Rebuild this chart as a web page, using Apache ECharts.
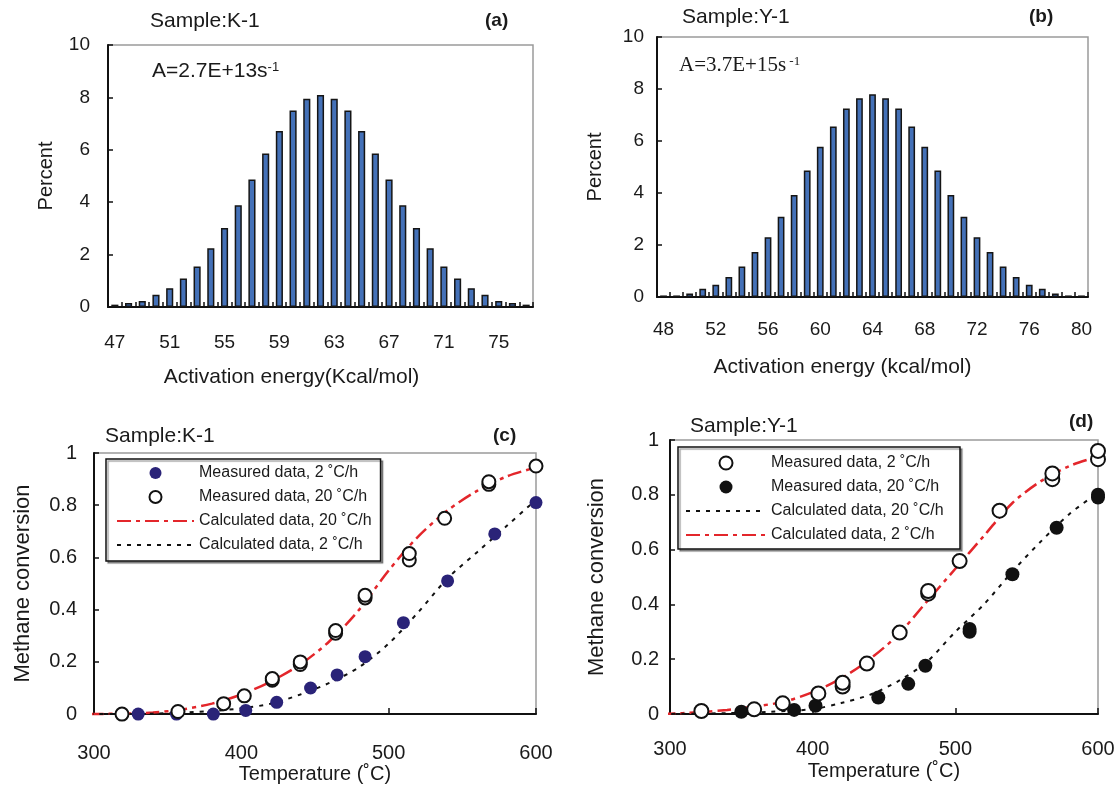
<!DOCTYPE html>
<html>
<head>
<meta charset="utf-8">
<script src="https://cdn.jsdelivr.net/npm/echarts@6/dist/echarts.min.js"></script>
<style>html,body{margin:0;padding:0;background:#fff}#chart{width:1118px;height:785px}</style>
</head>
<body>
<div id="chart"></div>
<script>
// ---------- Panel (a): K-1 activation energy distribution ----------
const energyA = ['47','48','49','50','51','52','53','54','55','56','57','58','59','60','61','62','63','64','65','66','67','68','69','70','71','72','73','74','75','76','77'];
const percentA = [0.09,0.15,0.23,0.47,0.72,1.09,1.55,2.24,3.02,3.88,4.87,5.86,6.72,7.50,7.95,8.09,7.95,7.50,6.72,5.86,4.87,3.88,3.02,2.24,1.55,1.09,0.72,0.47,0.23,0.15,0.09];
// ---------- Panel (b): Y-1 activation energy distribution ----------
const energyB = ['48','49','50','51','52','53','54','55','56','57','58','59','60','61','62','63','64','65','66','67','68','69','70','71','72','73','74','75','76','77','78','79','80'];
const percentB = [0.06,0.06,0.13,0.32,0.47,0.77,1.17,1.73,2.30,3.09,3.92,4.87,5.78,6.56,7.25,7.64,7.80,7.64,7.25,6.56,5.78,4.87,3.92,3.09,2.30,1.73,1.17,0.77,0.47,0.32,0.13,0.06,0.06];

// ---------- Panel (c): K-1 methane conversion ----------
const cMeas2T = [330,356,381,403,424,447,465,484,510,540,572,600];
const cMeas2V = [0,0,0,0.014,0.045,0.10,0.15,0.22,0.35,0.51,0.69,0.81];
const cMeas20T = [319,357,388,402,421,421,440,440,464,464,484,484,514,514,538,568,568,600];
const cMeas20V = [0,0.01,0.04,0.07,0.13,0.136,0.19,0.20,0.31,0.32,0.445,0.455,0.59,0.615,0.75,0.88,0.89,0.95];
const cCalc20T = [297,320,340,360,380,400,420,440,460,480,500,520,540,560,580,600,606];
const cCalc20V = [0,0.002,0.006,0.018,0.04,0.075,0.125,0.19,0.28,0.40,0.55,0.68,0.78,0.855,0.91,0.945,0.955];
const cCalc2T = [297,340,380,400,420,440,460,480,500,520,540,560,580,600,606];
const cCalc2V = [0,0.002,0.012,0.022,0.04,0.075,0.12,0.18,0.27,0.39,0.52,0.62,0.72,0.82,0.845];

// ---------- Panel (d): Y-1 methane conversion ----------
const dMeas2T = [322,359,379,404,421,421,438,461,481,481,503,531,568,568,600,600];
const dMeas2V = [0.011,0.017,0.039,0.075,0.10,0.114,0.184,0.297,0.439,0.449,0.558,0.742,0.857,0.878,0.93,0.96];
const dMeas20T = [350,387,402,446,467,479,510,510,540,571,600,600];
const dMeas20V = [0.008,0.015,0.03,0.06,0.11,0.176,0.30,0.31,0.51,0.68,0.79,0.80];
const dCalc2T = [294,320,340,360,380,400,420,440,460,480,500,520,540,560,580,600,608];
const dCalc2V = [0,0.006,0.015,0.028,0.045,0.08,0.13,0.2,0.29,0.41,0.53,0.65,0.77,0.85,0.905,0.94,0.955];
const dCalc20T = [294,340,370,400,420,440,460,480,500,520,540,560,580,600,607];
const dCalc20V = [0,0.003,0.008,0.018,0.04,0.07,0.12,0.19,0.30,0.40,0.52,0.63,0.73,0.81,0.85];

const legendC = ['Measured data, 2 ˚C/h','Measured data, 20 ˚C/h','Calculated data, 20 ˚C/h','Calculated data, 2 ˚C/h'];
const legendD = ['Measured data, 2 ˚C/h ','Measured data, 20 ˚C/h ','Calculated data, 20 ˚C/h ','Calculated data, 2 ˚C/h '];

const FONT = "'Liberation Sans', Arial, Helvetica, sans-serif";
const SERIF = "'Liberation Serif', 'Times New Roman', serif";
const pairs = (t, v) => t.map((x, i) => [x, v[i]]);

const gridBox = {show: true, borderColor: '#9a9a9a', borderWidth: 1.5, backgroundColor: 'transparent'};
const axisLineBlack = {show: true, onZero: false, lineStyle: {color: '#111', width: 2}};
const tickIn = {show: true, inside: true, length: 5, lineStyle: {color: '#111', width: 1.5}};
const lbl = (margin, extra) => Object.assign({color: '#1a1a1a', fontSize: 19, fontFamily: FONT, margin: margin}, extra || {});
const nameStyle = (extra) => Object.assign({color: '#1a1a1a', fontSize: 21, fontFamily: FONT}, extra || {});
const plainTitle = (size, weight) => ({fontSize: size, fontWeight: weight || 'normal', color: '#1a1a1a', fontFamily: FONT});

const redDash = {color: '#e3262b', width: 2.5, type: [14, 5, 4, 5]};
const blackDot = {color: '#111', width: 2, type: [4, 6]};
const hideSym = {color: 'rgba(0,0,0,0)', borderWidth: 0, opacity: 0};
const legendItems = (names, lineIdx) => names.map((n, i) => lineIdx.indexOf(i) >= 0 ? {name: n, itemStyle: hideSym} : {name: n});

const option = {
  animation: false,
  backgroundColor: '#fff',
  title: [
    {text: 'Sample:K-1', left: 150, top: 11, padding: 0, textStyle: plainTitle(21)},
    {text: '(a)', left: 485, top: 11, padding: 0, textStyle: plainTitle(19, 'bold')},
    {text: '{n|A=2.7E+13s}{s|-1}', left: 152, top: 61, padding: 0, textStyle: {fontWeight: 'normal', rich: {n: {fontSize: 21, fontWeight: 'normal', color: '#1a1a1a', fontFamily: FONT}, s: {fontSize: 13, fontWeight: 'normal', color: '#1a1a1a', fontFamily: FONT, verticalAlign: 'top', lineHeight: 12}}}},
    {text: 'Sample:Y-1', left: 682, top: 7, padding: 0, textStyle: plainTitle(21)},
    {text: '(b)', left: 1029, top: 7, padding: 0, textStyle: plainTitle(19, 'bold')},
    {text: '{n|A=3.7E+15s}{s| -1}', left: 679, top: 55, padding: 0, textStyle: {fontWeight: 'normal', rich: {n: {fontSize: 21, fontWeight: 'normal', color: '#1a1a1a', fontFamily: SERIF}, s: {fontSize: 13, fontWeight: 'normal', color: '#1a1a1a', fontFamily: SERIF, verticalAlign: 'top', lineHeight: 12}}}},
    {text: 'Sample:K-1', left: 105, top: 426, padding: 0, textStyle: plainTitle(21)},
    {text: '(c)', left: 493, top: 426, padding: 0, textStyle: plainTitle(19, 'bold')},
    {text: 'Sample:Y-1', left: 690, top: 416, padding: 0, textStyle: plainTitle(21)},
    {text: '(d)', left: 1069, top: 412, padding: 0, textStyle: plainTitle(19, 'bold')}
  ],
  legend: [
    {data: legendItems(legendC, [2, 3]), orient: 'vertical', left: 106, top: 459, itemWidth: 77, itemHeight: 12, itemGap: 8,
     padding: [6, 9, 8, 10], borderColor: '#111', borderWidth: 1.5, backgroundColor: '#fff',
     shadowColor: 'rgba(0,0,0,0.35)', shadowOffsetX: 2, shadowOffsetY: 2, shadowBlur: 1,
     selectedMode: false, textStyle: {fontSize: 16, color: '#1a1a1a', fontFamily: FONT}},
    {data: legendItems(legendD, [2, 3]), orient: 'vertical', left: 678, top: 447, itemWidth: 80, itemHeight: 13, itemGap: 8,
     padding: [8, 12, 6, 7], borderColor: '#111', borderWidth: 1.5, backgroundColor: '#fff',
     shadowColor: 'rgba(0,0,0,0.35)', shadowOffsetX: 2, shadowOffsetY: 2, shadowBlur: 1,
     selectedMode: false, textStyle: {fontSize: 16, color: '#1a1a1a', fontFamily: FONT}}
  ],
  grid: [
    Object.assign({left: 108, top: 45, width: 425, height: 262}, gridBox),
    Object.assign({left: 657, top: 37, width: 431, height: 260}, gridBox),
    Object.assign({left: 94, top: 453, width: 442, height: 265}, gridBox),
    Object.assign({left: 670, top: 440, width: 428, height: 274}, gridBox)
  ],
  xAxis: [
    {gridIndex: 0, type: 'category', data: energyA, boundaryGap: true,
     axisLine: axisLineBlack, axisTick: Object.assign({interval: 0}, tickIn),
     axisLabel: lbl(26, {interval: 3}), splitLine: {show: false},
     name: 'Activation energy(Kcal/mol)', nameLocation: 'middle', nameGap: 60,
     nameTextStyle: nameStyle({padding: [0, 58, 0, 0]})},
    {gridIndex: 1, type: 'category', data: energyB, boundaryGap: true,
     axisLine: axisLineBlack, axisTick: Object.assign({interval: 0}, tickIn),
     axisLabel: lbl(23, {interval: 3}), splitLine: {show: false},
     name: 'Activation energy (kcal/mol)', nameLocation: 'middle', nameGap: 60,
     nameTextStyle: nameStyle({padding: [0, 60, 0, 0]})},
    {gridIndex: 2, type: 'value', min: 300, max: 600, interval: 100,
     axisLine: axisLineBlack, axisTick: Object.assign({}, tickIn, {length: 6}),
     axisLabel: lbl(29, {fontSize: 20}), splitLine: {show: false},
     name: 'Temperature (˚C)', nameLocation: 'middle', nameGap: 48, nameTextStyle: nameStyle({fontSize: 20})},
    {gridIndex: 3, type: 'value', min: 300, max: 600, interval: 100,
     axisLine: axisLineBlack, axisTick: Object.assign({}, tickIn, {length: 6}),
     axisLabel: lbl(25, {fontSize: 20}), splitLine: {show: false},
     name: 'Temperature (˚C)', nameLocation: 'middle', nameGap: 47, nameTextStyle: nameStyle({fontSize: 20})}
  ],
  yAxis: [
    {gridIndex: 0, type: 'value', min: 0, max: 10, interval: 2,
     axisLine: axisLineBlack, axisTick: tickIn, axisLabel: lbl(18), splitLine: {show: false},
     name: 'Percent', nameLocation: 'middle', nameGap: 52, nameRotate: 90, nameTextStyle: nameStyle({fontSize: 20})},
    {gridIndex: 1, type: 'value', min: 0, max: 10, interval: 2,
     axisLine: axisLineBlack, axisTick: tickIn, axisLabel: lbl(13), splitLine: {show: false},
     name: 'Percent', nameLocation: 'middle', nameGap: 52, nameRotate: 90, nameTextStyle: nameStyle({fontSize: 20})},
    {gridIndex: 2, type: 'value', min: 0, max: 1, interval: 0.2,
     axisLine: axisLineBlack, axisTick: tickIn, axisLabel: lbl(17, {fontSize: 20}), splitLine: {show: false},
     name: 'Methane conversion', nameLocation: 'middle', nameGap: 60, nameRotate: 90, nameTextStyle: nameStyle({fontSize: 22})},
    {gridIndex: 3, type: 'value', min: 0, max: 1, interval: 0.2,
     axisLine: axisLineBlack, axisTick: tickIn, axisLabel: lbl(11, {fontSize: 20}), splitLine: {show: false},
     name: 'Methane conversion', nameLocation: 'middle', nameGap: 62, nameRotate: 90, nameTextStyle: nameStyle({fontSize: 22})}
  ],
  series: [
    {type: 'bar', xAxisIndex: 0, yAxisIndex: 0, data: percentA, barWidth: '52%',
     itemStyle: {color: '#4471b8', borderColor: '#151515', borderWidth: 1.5}},
    {type: 'bar', xAxisIndex: 1, yAxisIndex: 1, data: percentB, barWidth: '52%',
     itemStyle: {color: '#4471b8', borderColor: '#151515', borderWidth: 1.5}},

    {name: legendC[2], type: 'line', xAxisIndex: 2, yAxisIndex: 2, data: pairs(cCalc20T, cCalc20V),
     symbol: 'none', smooth: 0.3, clip: false, lineStyle: redDash, itemStyle: {color: '#e3262b'}, z: 2},
    {name: legendC[3], type: 'line', xAxisIndex: 2, yAxisIndex: 2, data: pairs(cCalc2T, cCalc2V),
     symbol: 'none', smooth: 0.3, clip: false, lineStyle: blackDot, itemStyle: {color: '#111'}, z: 2},
    {name: legendC[0], type: 'scatter', xAxisIndex: 2, yAxisIndex: 2, data: pairs(cMeas2T, cMeas2V),
     symbol: 'circle', symbolSize: 13, itemStyle: {color: '#2a2378', opacity: 1}, z: 3},
    {name: legendC[1], type: 'scatter', xAxisIndex: 2, yAxisIndex: 2, data: pairs(cMeas20T, cMeas20V),
     symbol: 'circle', symbolSize: 13, itemStyle: {color: '#ffffff', borderColor: '#111', borderWidth: 2, opacity: 1}, z: 4},

    {name: legendD[3], type: 'line', xAxisIndex: 3, yAxisIndex: 3, data: pairs(dCalc2T, dCalc2V),
     symbol: 'none', smooth: 0.3, clip: false, lineStyle: redDash, itemStyle: {color: '#e3262b'}, z: 2},
    {name: legendD[2], type: 'line', xAxisIndex: 3, yAxisIndex: 3, data: pairs(dCalc20T, dCalc20V),
     symbol: 'none', smooth: 0.3, clip: false, lineStyle: blackDot, itemStyle: {color: '#111'}, z: 2},
    {name: legendD[1], type: 'scatter', xAxisIndex: 3, yAxisIndex: 3, data: pairs(dMeas20T, dMeas20V),
     symbol: 'circle', symbolSize: 14, itemStyle: {color: '#111', opacity: 1}, z: 3},
    {name: legendD[0], type: 'scatter', xAxisIndex: 3, yAxisIndex: 3, data: pairs(dMeas2T, dMeas2V),
     symbol: 'circle', symbolSize: 14, itemStyle: {color: '#ffffff', borderColor: '#111', borderWidth: 2, opacity: 1}, z: 4}
  ]
};

const chart = echarts.init(document.getElementById('chart'), null, {renderer: 'canvas'});
chart.setOption(option);
</script>
</body>
</html>
